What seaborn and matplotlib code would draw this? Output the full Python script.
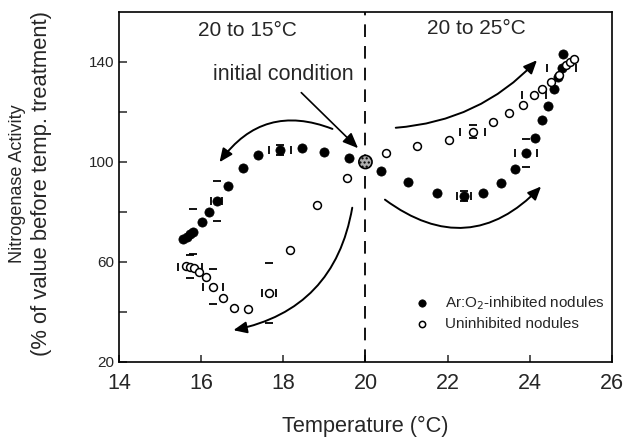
import matplotlib
matplotlib.use("Agg")
import matplotlib.pyplot as plt
import seaborn as sns
import numpy as np
import pandas as pd

# Ar:O2-inhibited nodules, cooling 20 -> 15 and warming 20 -> 25
inh_temp = [15.56, 15.65, 15.73, 15.80, 16.02, 16.19, 16.38, 16.65, 17.02, 17.38, 17.92, 18.45, 18.99, 19.60,
            20.37, 21.03, 21.74, 22.39, 22.86, 23.29, 23.64, 23.90, 24.12, 24.29, 24.44, 24.58, 24.68, 24.78, 24.80]
inh_act = [69.2, 70.0, 71.2, 72.0, 76.0, 80.0, 84.4, 90.4, 97.6, 102.8, 104.8, 105.6, 104.0, 101.6,
           96.4, 92.0, 87.6, 86.4, 87.6, 91.6, 97.2, 103.6, 109.6, 116.8, 122.4, 129.2, 134.0, 137.6, 143.2]

# uninhibited nodules
uni_temp = [15.63, 15.73, 15.82, 15.95, 16.12, 16.29, 16.53, 16.80, 17.14, 17.65, 18.16, 18.82, 19.55,
            20.50, 21.25, 22.03, 22.61, 23.10, 23.49, 23.83, 24.10, 24.29, 24.51, 24.71, 24.88, 24.97, 25.07]
uni_act = [58.4, 58.0, 57.6, 56.0, 54.0, 50.0, 45.6, 41.6, 41.2, 47.6, 64.8, 82.8, 93.6,
           103.6, 106.4, 108.8, 112.0, 116.0, 119.6, 122.8, 126.8, 129.2, 132.0, 134.8, 138.8, 140.0, 141.2]

# points that show error-bar caps (temp, activity, x err, y err)
inh_err_t = [15.80, 16.38, 17.92, 22.39, 23.90, 24.78]
inh_err_a = [72.0, 84.4, 104.8, 86.4, 103.6, 137.6]
inh_err_x = [0.0, 0.13, 0.27, 0.17, 0.27, 0.35]
inh_err_y = [9.0, 8.0, 2.0, 2.0, 5.6, 0.0]

uni_err_t = [15.73, 16.29, 17.65, 22.61, 24.10]
uni_err_a = [58.0, 50.0, 47.6, 112.0, 126.8]
uni_err_x = [0.29, 0.25, 0.17, 0.30, 0.30]
uni_err_y = [4.6, 7.0, 12.0, 2.6, 0.0]

init_temp, init_act = 20.0, 100.0

df_inh = pd.DataFrame({"temp": inh_temp, "act": inh_act})
df_uni = pd.DataFrame({"temp": uni_temp, "act": uni_act})

sns.set_style("ticks")
plt.rcParams["font.family"] = ["Liberation Sans", "DejaVu Sans"]

fig = plt.figure(figsize=(6.29, 4.42), dpi=100)
ax = fig.add_axes([0.189, 0.181, 0.784, 0.792])

# caps-only error bars
ax.errorbar(inh_err_t, inh_err_a, xerr=inh_err_x, yerr=inh_err_y, fmt="none",
            ecolor="black", elinewidth=0, capsize=3, capthick=1.3, zorder=2)
ax.errorbar(uni_err_t, uni_err_a, xerr=uni_err_x, yerr=uni_err_y, fmt="none",
            ecolor="black", elinewidth=0, capsize=3, capthick=1.3, zorder=2)

sns.scatterplot(data=df_inh, x="temp", y="act", ax=ax, marker="o", s=44,
                color="black", edgecolor="black", linewidth=0.5,
                label="Ar:O$_2$-inhibited nodules", zorder=3)
sns.scatterplot(data=df_uni, x="temp", y="act", ax=ax, marker="o", s=32,
                facecolor="white", edgecolor="black", linewidth=1.1,
                label="Uninhibited nodules", zorder=3)

ax.axvline(20, color="black", linestyle=(0, (7, 5)), linewidth=1.3, zorder=1)
ax.scatter([init_temp], [init_act], s=90, facecolor="#b0b0b0", edgecolor="black",
           linewidth=1.2, hatch="....", zorder=4)

# curved arrows
arr = dict(arrowstyle="-|>,head_length=0.8,head_width=0.35", color="black", lw=1.4)
ax.annotate("", xy=(16.41, 99.0), xytext=(19.26, 112.8),
            arrowprops=dict(connectionstyle="arc3,rad=0.4", **arr))
ax.annotate("", xy=(16.72, 32.5), xytext=(19.69, 82.8),
            arrowprops=dict(connectionstyle="arc3,rad=-0.35", **arr))
ax.annotate("", xy=(24.22, 141.5), xytext=(20.67, 113.6),
            arrowprops=dict(connectionstyle="arc3,rad=0.2", **arr))
ax.annotate("", xy=(24.32, 91.0), xytext=(20.42, 85.6),
            arrowprops=dict(connectionstyle="arc3,rad=0.45", **arr))

ax.annotate("initial condition", xy=(19.82, 105.5), xytext=(18.0, 134.8),
            ha="center", va="center", fontsize=15.5,
            arrowprops=dict(arrowstyle="-|>,head_length=0.6,head_width=0.25",
                            color="black", lw=1.2, shrinkA=4, shrinkB=0))
ax.text(17.13, 152.6, "20 to 15°C", ha="center", va="center", fontsize=15)
ax.text(22.71, 153.4, "20 to 25°C", ha="center", va="center", fontsize=15)

ax.set_xlim(14, 26)
ax.set_ylim(20, 160)
ax.set_xticks([14, 16, 18, 20, 22, 24, 26])
ax.set_yticks([20, 60, 100, 140])
ax.set_yticks([40, 80, 120], minor=True)
ax.tick_params(axis="both", which="both", direction="in", width=1.1,
               top=False, right=False)
ax.tick_params(axis="x", length=5, pad=8, labelsize=15.5)
ax.tick_params(axis="y", which="major", length=6, pad=3, labelsize=11)
ax.tick_params(axis="y", which="minor", length=6)
for s in ax.spines.values():
    s.set_visible(True)
    s.set_linewidth(1.2)
    s.set_color("black")

ax.set_xlabel("Temperature (°C)", fontsize=15.7, labelpad=16)
ax.set_ylabel("")
fig.text(18 / 629, 1 - 184 / 442, "Nitrogenase Activity", rotation=90,
         ha="center", va="center", fontsize=13)
fig.text(42 / 629, 1 - 183 / 442, "(% of value before temp. treatment)", rotation=90,
         ha="center", va="center", fontsize=15.8)

leg = ax.legend(loc="lower left", bbox_to_anchor=(0.555, 0.05), frameon=False,
                fontsize=11, handletextpad=0.5, labelspacing=0.3, markerscale=0.8)

fig.savefig("out.png", dpi=100)
